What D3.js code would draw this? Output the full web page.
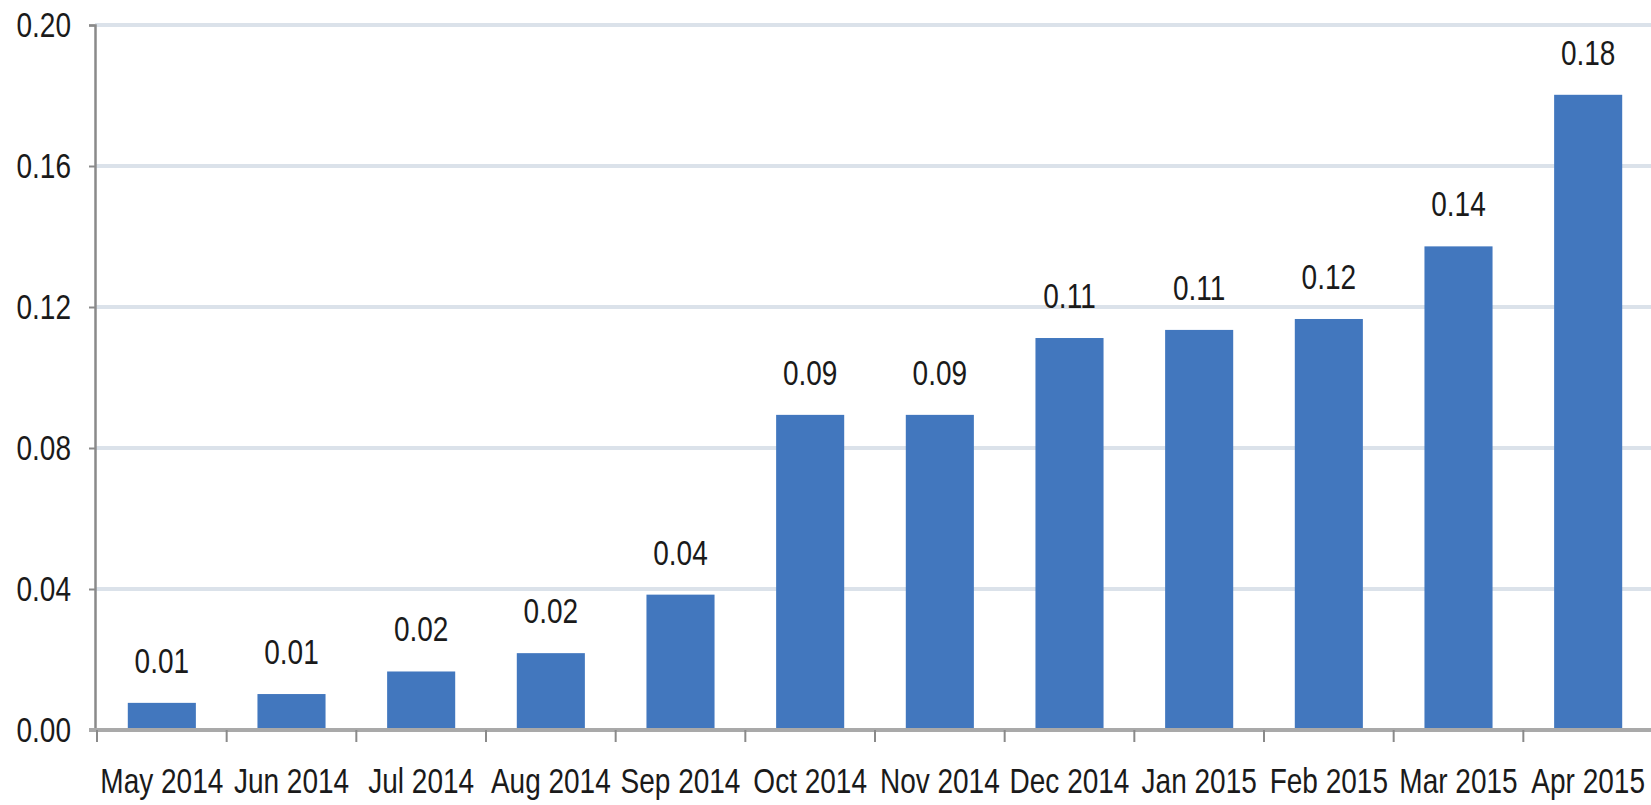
<!DOCTYPE html>
<html>
<head>
<meta charset="utf-8">
<script src="https://cdn.jsdelivr.net/npm/d3@7"></script>
<style>
  html, body { margin: 0; padding: 0; background: #ffffff; }
  svg { display: block; }
  .lbl { font-family: "Liberation Sans", Arial, sans-serif; fill: #1a1a1a; }
</style>
</head>
<body>
<svg id="chart" width="1651" height="805"></svg>
<script>
const months = ["May 2014","Jun 2014","Jul 2014","Aug 2014","Sep 2014","Oct 2014","Nov 2014","Dec 2014","Jan 2015","Feb 2015","Mar 2015","Apr 2015"];
const values = [0.0077, 0.0102, 0.0166, 0.0218, 0.0384, 0.0894, 0.0894, 0.1112, 0.1135, 0.1166, 0.1372, 0.1802];
const yTicks = [0.00, 0.04, 0.08, 0.12, 0.16, 0.20];

(function () {
const svg = d3.select("#chart");
const W = 1651;
const axisX = 95, plotTop = 25, base = 730, plotRight = 1653;
const FS = 35, SX = 0.8;

const y = d3.scaleLinear().domain([0, 0.20]).range([base, plotTop]);
const x = d3.scaleBand().domain(months).range([97, plotRight]).paddingInner(0.475).paddingOuter(0.2375);
const fmt = d3.format(".2f");

function placeText(sel, fx, fy, anchor) {
  sel.attr("class", "lbl")
    .attr("font-size", FS)
    .attr("text-anchor", anchor)
    .attr("transform", (d, i) => `translate(${fx(d, i)},${fy(d, i)}) scale(${SX},1)`);
}

// gridlines
svg.append("g").selectAll("line").data(yTicks.filter(d => d > 0)).join("line")
  .attr("x1", axisX).attr("x2", W).attr("y1", d => y(d)).attr("y2", d => y(d))
  .attr("stroke", "#dbe2ea").attr("stroke-width", 4);

// bars
svg.append("g").selectAll("rect").data(values).join("rect")
  .attr("x", (d, i) => x(months[i]))
  .attr("width", x.bandwidth())
  .attr("y", d => y(d))
  .attr("height", d => base - y(d))
  .attr("fill", "#4277be");

// value labels
svg.append("g").selectAll("text").data(values).join("text")
  .call(placeText, (d, i) => x(months[i]) + x.bandwidth() / 2, d => y(d) - 30, "middle")
  .text(d => fmt(d));

// y axis (line + ticks via d3 axis, labels placed separately)
const yAxis = d3.axisLeft(y).tickValues(yTicks).tickFormat("").tickSize(6);
const gy = svg.append("g").attr("transform", `translate(${axisX},0)`).call(yAxis);
gy.select(".domain").attr("stroke", "#8a8a8a").attr("stroke-width", 2.5);
gy.selectAll(".tick line").attr("stroke", "#8a8a8a").attr("stroke-width", 2);

svg.append("g").selectAll("text").data(yTicks).join("text")
  .call(placeText, () => 71, d => y(d) + 12, "end")
  .text(d => fmt(d));

// x baseline
const gap = (x.step() - x.bandwidth()) / 2;
svg.append("line").attr("x1", axisX - 6).attr("x2", W).attr("y1", base).attr("y2", base)
  .attr("stroke", "#a9a9a9").attr("stroke-width", 4);
// x boundary ticks
svg.append("g").selectAll("line").data(months).join("line")
  .attr("x1", d => x(d) - gap).attr("x2", d => x(d) - gap)
  .attr("y1", base).attr("y2", base + 12)
  .attr("stroke", "#8a8a8a").attr("stroke-width", 2);

// x labels
svg.append("g").selectAll("text").data(months).join("text")
  .call(placeText, d => x(d) + x.bandwidth() / 2, () => 793, "middle")
  .text(d => d);
})();
</script>
</body>
</html>
